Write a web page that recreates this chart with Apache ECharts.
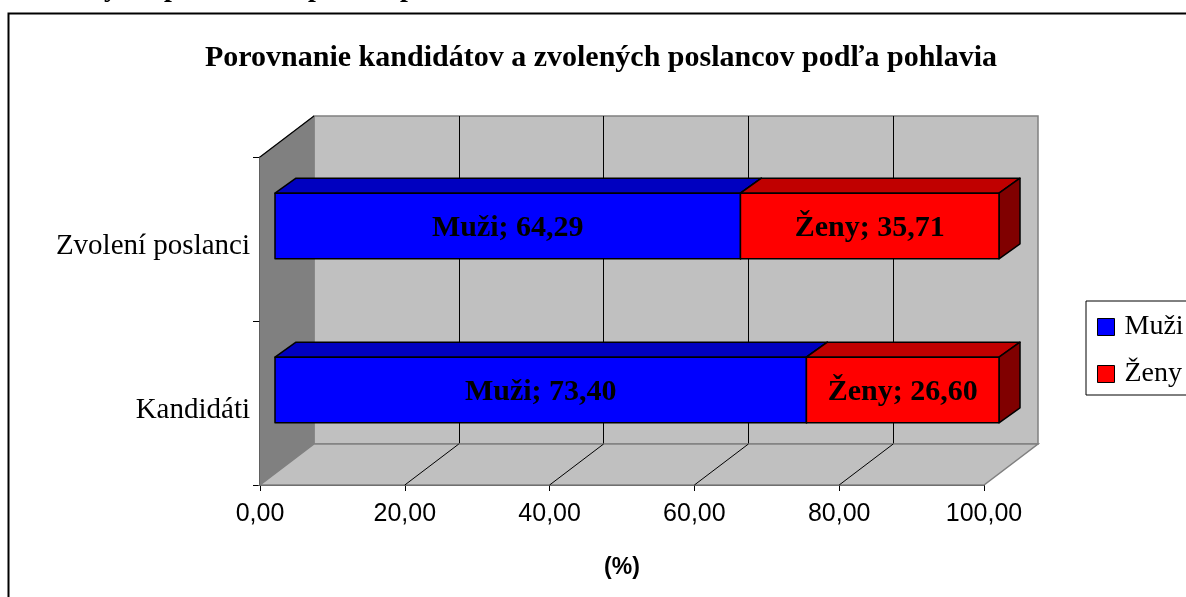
<!DOCTYPE html>
<html>
<head>
<meta charset="utf-8">
<script src="https://cdn.jsdelivr.net/npm/echarts@6/dist/echarts.min.js"></script>
<style>
html,body{margin:0;padding:0;background:#fff;}
#chart{width:1186px;height:597px;}
</style>
</head>
<body>
<div id="chart"></div>
<script>
// ---- data ----
const categories = ['Kandidáti', 'Zvolení poslanci'];
const muzi = [73.40, 64.29];
const zeny = [26.60, 35.71];
const xTicks = [0, 20, 40, 60, 80, 100];
const titleText = 'Porovnanie kandidátov a zvolených poslancov podľa pohlavia';
const xAxisName = '(%)';

// ---- style constants ----
const DX = 54, DY = 41;      // depth of the 3D box
const BDX = 21, BDY = 15;    // depth of the bars
const SERIF = '"Liberation Serif", "Times New Roman", serif';
const SANS = '"Liberation Sans", Arial, sans-serif';
const fmt = v => v.toFixed(2).replace('.', ',');

const chart = echarts.init(document.getElementById('chart'), null, {renderer: 'canvas'});

function barRender(colors) {
  return function (params, api) {
    const s = api.coord([api.value(0), api.value(2)]);
    const e = api.coord([api.value(1), api.value(2)]);
    const bh = api.size([0, 1])[1] * 0.4;
    const x0 = s[0], x1 = e[0], yT = s[1] - bh / 2, yB = s[1] + bh / 2;
    const line = {stroke: '#000', lineWidth: 1.5, lineJoin: 'round'};
    return {
      type: 'group',
      children: [
        {type: 'polygon', shape: {points: [[x0, yT], [x0 + BDX, yT - BDY], [x1 + BDX, yT - BDY], [x1, yT]]},
         style: Object.assign({fill: colors.top}, line)},
        {type: 'polygon', shape: {points: [[x1, yT], [x1 + BDX, yT - BDY], [x1 + BDX, yB - BDY], [x1, yB]]},
         style: Object.assign({fill: colors.side}, line)},
        {type: 'rect', shape: {x: x0, y: yT, width: x1 - x0, height: bh},
         style: Object.assign({fill: colors.front}, line)},
        {type: 'text', x: (x0 + x1) / 2, y: s[1] + 2,
         style: {text: params.seriesName + '; ' + fmt(api.value(3)), align: 'center', verticalAlign: 'middle',
                 font: 'bold 30px ' + SERIF, fill: '#000'}}
      ]
    };
  };
}

const muziData = categories.map((c, i) => [0, muzi[i], i, muzi[i]]);
const zenyData = categories.map((c, i) => [muzi[i], muzi[i] + zeny[i], i, zeny[i]]);

const option = {
  animation: false,
  backgroundColor: '#fff',
  title: {
    text: titleText, left: 205, top: 43, padding: 0,
    textStyle: {fontFamily: SERIF, fontWeight: 'bold', fontSize: 30, color: '#000'}
  },
  legend: {
    orient: 'vertical', left: 1086, top: 301,
    data: [
      {name: 'Muži', itemStyle: {color: '#0000FF', borderColor: '#000', borderWidth: 1}},
      {name: 'Ženy', itemStyle: {color: '#FF0000', borderColor: '#000', borderWidth: 1}}
    ],
    icon: 'rect', itemWidth: 17, itemHeight: 17, itemGap: 19,
    padding: [12, 11, 7, 11],
    borderColor: '#000', borderWidth: 1, backgroundColor: '#fff',
    textStyle: {fontFamily: SERIF, fontSize: 28, color: '#000', padding: [0, 0, 0, 5]}
  },
  grid: [
    {left: 260, top: 157, width: 724, height: 328},
    {left: 314, top: 116, width: 724, height: 328, show: true, backgroundColor: '#C0C0C0',
     borderColor: '#808080', borderWidth: 1.5},
    {left: 275, top: 144, width: 724, height: 328}
  ],
  xAxis: [
    {gridIndex: 0, type: 'value', min: 0, max: 100, interval: 20,
     axisLine: {show: true, lineStyle: {color: '#000', width: 1.5}},
     axisTick: {show: true, length: 6, lineStyle: {color: '#000'}},
     axisLabel: {formatter: v => fmt(v), fontFamily: SANS, fontSize: 25, color: '#000', margin: 17},
     splitLine: {show: false},
     name: xAxisName, nameLocation: 'middle', nameGap: 71,
     nameTextStyle: {fontFamily: SANS, fontWeight: 'bold', fontSize: 23, color: '#000'}},
    {gridIndex: 1, type: 'value', min: 0, max: 100, interval: 20,
     axisLine: {show: false}, axisTick: {show: false}, axisLabel: {show: false},
     splitLine: {show: true, lineStyle: {color: ['rgba(0,0,0,0)', '#000', '#000', '#000', '#000', 'rgba(0,0,0,0)'], width: 1}}},
    {gridIndex: 2, type: 'value', min: 0, max: 100, show: false}
  ],
  yAxis: [
    {gridIndex: 0, type: 'category', data: categories,
     axisLine: {show: true, lineStyle: {color: '#000', width: 1.5}},
     axisTick: {show: true, length: 7, lineStyle: {color: '#000'}},
     axisLabel: {margin: 10, formatter: v => '{c|' + v + '}',
                 rich: {c: {fontFamily: SERIF, fontSize: 29, color: '#000', padding: [14, 0, 0, 0]}}},
     splitLine: {show: false}},
    {gridIndex: 1, type: 'category', data: categories, show: false},
    {gridIndex: 2, type: 'category', data: categories, show: false}
  ],
  series: [
    { // walls and floor of the 3D box
      type: 'custom', name: 'box', xAxisIndex: 0, yAxisIndex: 0, z: 1, silent: true,
      legendHoverLink: false,
      data: xTicks.map(v => [v, 0]),
      renderItem: function (params, api) {
        const cs = params.coordSys;
        const x = cs.x, y = cs.y, w = cs.width, h = cs.height;
        const px = api.coord([api.value(0), categories[0]])[0];
        const children = [];
        if (params.dataIndex === 0) {
          children.push({type: 'polygon', shape: {points: [[x, y], [x + DX, y - DY], [x + DX, y + h - DY], [x, y + h]]},
                         style: {fill: '#808080', stroke: '#808080', lineWidth: 1}});
          children.push({type: 'line', shape: {x1: x, y1: y, x2: x + DX, y2: y - DY},
                         style: {stroke: '#000', lineWidth: 1.2}});
          children.push({type: 'polygon', shape: {points: [[x, y + h], [x + DX, y + h - DY], [x + w + DX, y + h - DY], [x + w, y + h]]},
                         style: {fill: '#C0C0C0', stroke: '#808080', lineWidth: 1.5}});
        } else if (api.value(0) < 100) {
          children.push({type: 'line', shape: {x1: px, y1: y + h, x2: px + DX, y2: y + h - DY},
                         style: {stroke: '#000', lineWidth: 1}});
        }
        return {type: 'group', children: children};
      }
    },
    {
      type: 'custom', name: 'Muži', xAxisIndex: 2, yAxisIndex: 2, z: 3,
      itemStyle: {color: '#0000FF'},
      data: muziData,
      renderItem: barRender({front: '#0000FF', top: '#0000C0', side: '#000080'})
    },
    {
      type: 'custom', name: 'Ženy', xAxisIndex: 2, yAxisIndex: 2, z: 3,
      itemStyle: {color: '#FF0000'},
      data: zenyData,
      renderItem: barRender({front: '#FF0000', top: '#C00000', side: '#800000'})
    }
  ],
  graphic: [
    {type: 'rect', shape: {x: 8.5, y: 13.5, width: 1300, height: 700}, z: 100, silent: true,
     style: {fill: 'none', stroke: '#000', lineWidth: 2}},
    {type: 'text', x: 104, y: 3, z: 100, style: {text: 'y', font: 'bold 28px ' + SERIF, fill: '#000', verticalAlign: 'bottom'}},
    {type: 'text', x: 164, y: 3, z: 100, style: {text: 'p', font: 'bold 28px ' + SERIF, fill: '#000', verticalAlign: 'bottom'}},
    {type: 'text', x: 308, y: 3, z: 100, style: {text: 'p', font: 'bold 28px ' + SERIF, fill: '#000', verticalAlign: 'bottom'}},
    {type: 'text', x: 400, y: 3, z: 100, style: {text: 'p', font: 'bold 28px ' + SERIF, fill: '#000', verticalAlign: 'bottom'}}
  ]
};
chart.setOption(option);
</script>
</body>
</html>
